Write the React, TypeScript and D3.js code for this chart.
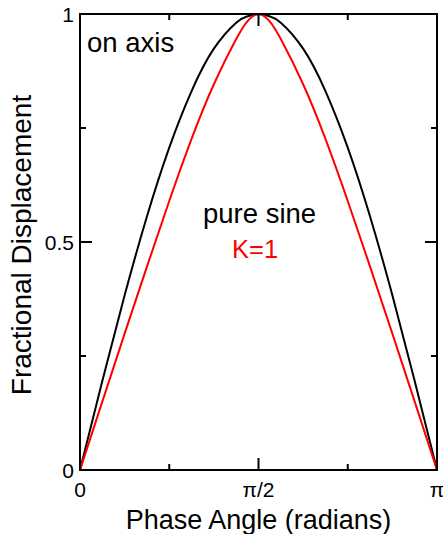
import * as d3 from 'd3';

// phase positions as fractions of pi
const phaseSteps = [
  0, 0.0625, 0.125, 0.1875, 0.25, 0.3125, 0.375, 0.4375, 0.46875, 0.5,
  0.53125, 0.5625, 0.625, 0.6875, 0.75, 0.8125, 0.875, 0.9375, 1,
];
const pureSine = [
  0, 0.195, 0.383, 0.556, 0.707, 0.831, 0.924, 0.981, 0.995, 1,
  0.995, 0.981, 0.924, 0.831, 0.707, 0.556, 0.383, 0.195, 0,
];
const kOne = [
  0, 0.15, 0.299, 0.446, 0.59, 0.726, 0.846, 0.945, 0.984, 1,
  0.984, 0.945, 0.846, 0.726, 0.59, 0.446, 0.299, 0.15, 0,
];

const xMajor = [0, Math.PI / 2, Math.PI];
const xMajorLabels = ['0', 'π/2', 'π'];
const xMinor = [Math.PI / 4, (3 * Math.PI) / 4];
const yMajor = [0, 0.5, 1];
const yMajorLabels = ['0', '0.5', '1'];
const yMinor = [0.25, 0.75];

const W = 443;
const H = 534;
const margin = { top: 14, right: 6, bottom: 64, left: 80 };
const font = "'Liberation Sans', Arial, Helvetica, sans-serif";

export default function App() {
  const x = d3.scaleLinear().domain([0, Math.PI]).range([margin.left, W - margin.right]);
  const y = d3.scaleLinear().domain([0, 1]).range([H - margin.bottom, margin.top]);
  const [x0, x1] = x.range();
  const [y0, y1] = y.range();

  const line = d3
    .line<number>()
    .x((_, i) => x(phaseSteps[i] * Math.PI))
    .y(d => y(d))
    .curve(d3.curveNatural);

  const majorLen = 12;
  const minorLen = 6;

  return (
    <svg
      width={W}
      height={H}
      style={{ position: 'absolute', left: 0, top: 0, background: '#fff' }}
      fontFamily={font}
    >
      {/* curves */}
      <path d={line(pureSine) || ''} fill="none" stroke="#000" strokeWidth={2} />
      <path d={line(kOne) || ''} fill="none" stroke="#ff0000" strokeWidth={2} />

      {/* frame */}
      <rect x={x0} y={y1} width={x1 - x0} height={y0 - y1} fill="none" stroke="#000" strokeWidth={2} />

      {/* x ticks, bottom and top, inward */}
      {xMajor.map(t => (
        <g key={'xM' + t}>
          <line x1={x(t)} x2={x(t)} y1={y0} y2={y0 - majorLen} stroke="#000" strokeWidth={2} />
          <line x1={x(t)} x2={x(t)} y1={y1} y2={y1 + majorLen} stroke="#000" strokeWidth={2} />
        </g>
      ))}
      {xMinor.map(t => (
        <g key={'xm' + t}>
          <line x1={x(t)} x2={x(t)} y1={y0} y2={y0 - minorLen} stroke="#000" strokeWidth={2} />
          <line x1={x(t)} x2={x(t)} y1={y1} y2={y1 + minorLen} stroke="#000" strokeWidth={2} />
        </g>
      ))}

      {/* y ticks, left and right, inward */}
      {yMajor.map(t => (
        <g key={'yM' + t}>
          <line x1={x0} x2={x0 + majorLen} y1={y(t)} y2={y(t)} stroke="#000" strokeWidth={2} />
          <line x1={x1} x2={x1 - majorLen} y1={y(t)} y2={y(t)} stroke="#000" strokeWidth={2} />
        </g>
      ))}
      {yMinor.map(t => (
        <g key={'ym' + t}>
          <line x1={x0} x2={x0 + minorLen} y1={y(t)} y2={y(t)} stroke="#000" strokeWidth={2} />
          <line x1={x1} x2={x1 - minorLen} y1={y(t)} y2={y(t)} stroke="#000" strokeWidth={2} />
        </g>
      ))}

      {/* tick labels */}
      {xMajor.map((t, i) => (
        <text key={'xl' + t} x={x(t)} y={y0 + 27} textAnchor="middle" fontSize={21}>
          {xMajorLabels[i]}
        </text>
      ))}
      {yMajor.map((t, i) => (
        <text key={'yl' + t} x={x0 - 6} y={y(t) + 8} textAnchor="end" fontSize={21}>
          {yMajorLabels[i]}
        </text>
      ))}

      {/* axis titles */}
      <text x={(x0 + x1) / 2} y={529} textAnchor="middle" fontSize={27}>
        Phase Angle (radians)
      </text>
      <text
        transform={`translate(31,${(y0 + y1) / 2 + 3}) rotate(-90)`}
        textAnchor="middle"
        fontSize={28}
      >
        Fractional Displacement
      </text>

      {/* annotations */}
      <text x={87} y={52} fontSize={27.5}>on axis</text>
      <text x={203} y={223} fontSize={27.5}>pure sine</text>
      <text x={232} y={258} fontSize={25.5} fill="#ff0000">K=1</text>
    </svg>
  );
}
